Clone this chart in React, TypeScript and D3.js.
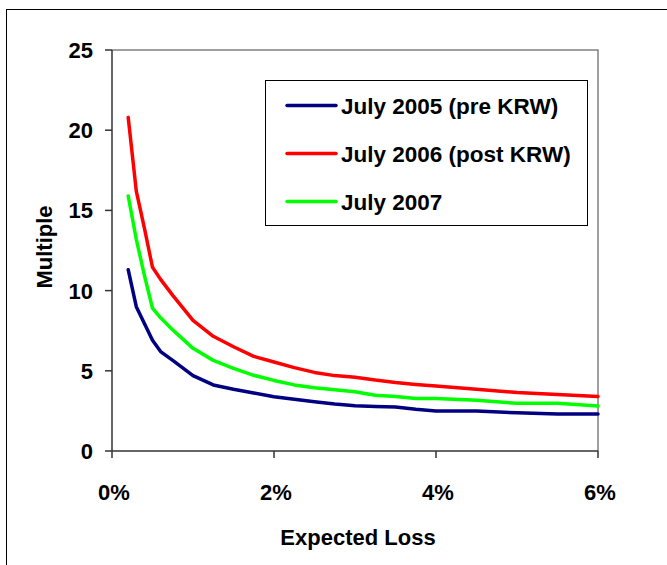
import * as d3 from 'd3'

// expected loss (%) at each computed point
const expectedLoss = [
  0.2, 0.3, 0.4, 0.5, 0.6, 0.75, 1, 1.25, 1.5, 1.75, 2, 2.25, 2.5, 2.75, 3,
  3.25, 3.5, 3.75, 4, 4.5, 5, 5.5, 6,
]

const july2005 = [
  11.3, 9.0, 7.95, 6.9, 6.2, 5.65, 4.7, 4.12, 3.85, 3.62, 3.38, 3.22, 3.07,
  2.93, 2.82, 2.78, 2.74, 2.6, 2.5, 2.5, 2.38, 2.3, 2.3,
]
const july2006 = [
  20.8, 16.2, 13.9, 11.45, 10.7, 9.7, 8.15, 7.15, 6.5, 5.9, 5.55, 5.2, 4.9,
  4.7, 4.6, 4.42, 4.27, 4.15, 4.05, 3.85, 3.65, 3.52, 3.4,
]
const july2007 = [
  15.9, 13.2, 10.95, 8.9, 8.3, 7.55, 6.4, 5.65, 5.15, 4.72, 4.4, 4.12, 3.95,
  3.82, 3.7, 3.48, 3.4, 3.28, 3.27, 3.17, 2.97, 2.97, 2.8,
]

const seriesNames = ['July 2005 (pre KRW)', 'July 2006 (post KRW)', 'July 2007']
const seriesColors = ['#000080', '#ff0000', '#00ff00']
const seriesValues = [july2005, july2006, july2007]

const yTicks = [0, 5, 10, 15, 20, 25]
const xTicks = [0, 2, 4, 6]

const width = 667
const height = 565
const font = '"Liberation Sans", Arial, sans-serif'

export default function App() {
  const x = d3.scaleLinear([0, 6], [112, 598])
  const y = d3.scaleLinear([0, 25], [451, 50])

  const line = d3
    .line<number>()
    .x((_, i) => x(expectedLoss[i]))
    .y((d) => y(d))

  return (
    <svg
      width={width}
      height={height}
      style={{ position: 'absolute', left: 0, top: 0, background: '#fff' }}
      fontFamily={font}
      fontWeight="bold"
    >
      {/* outer frame, runs off the right and bottom edges */}
      <rect x={6.5} y={9.5} width={720} height={600} fill="#fff" stroke="#000" />

      {/* plot area top and right border */}
      <path
        d={`M${x(0)},${y(25)}H${x(6)}V${y(0)}`}
        fill="none"
        stroke="#808080"
        strokeWidth={1.5}
      />

      {/* y axis */}
      <line x1={x(0)} x2={x(0)} y1={y(25)} y2={y(0)} stroke="#333" strokeWidth={1.5} />
      {yTicks.map((t) => (
        <g key={t}>
          <line x1={x(0) - 7} x2={x(0)} y1={y(t)} y2={y(t)} stroke="#333" strokeWidth={1.5} />
          <text x={93} y={y(t)} dy="0.36em" textAnchor="end" fontSize={22}>
            {t}
          </text>
        </g>
      ))}

      {/* x axis */}
      <line x1={x(0)} x2={x(6)} y1={y(0)} y2={y(0)} stroke="#333" strokeWidth={1.5} />
      {xTicks.map((t) => (
        <g key={t}>
          <line x1={x(t)} x2={x(t)} y1={y(0)} y2={y(0) + 7} stroke="#333" strokeWidth={1.5} />
          <text x={x(t) + 2} y={500} textAnchor="middle" fontSize={22}>
            {t}%
          </text>
        </g>
      ))}

      <text x={358} y={545} textAnchor="middle" fontSize={22}>
        Expected Loss
      </text>
      <text
        transform={`translate(52,247) rotate(-90)`}
        textAnchor="middle"
        fontSize={22}
      >
        Multiple
      </text>

      {/* series */}
      {seriesValues.map((vals, i) => (
        <path
          key={seriesNames[i]}
          d={line(vals) ?? ''}
          fill="none"
          stroke={seriesColors[i]}
          strokeWidth={3.5}
          strokeLinejoin="round"
          strokeLinecap="round"
        />
      ))}

      {/* legend */}
      <rect x={265.5} y={80.5} width={322} height={145} fill="#fff" stroke="#000" />
      {seriesNames.map((name, i) => {
        const ly = 105.5 + i * 48
        return (
          <g key={name}>
            <line x1={287} x2={336} y1={ly} y2={ly} stroke={seriesColors[i]} strokeWidth={3.5} strokeLinecap="round" />
            <text x={341} y={ly} dy="0.36em" fontSize={22.5}>
              {name}
            </text>
          </g>
        )
      })}
    </svg>
  )
}
